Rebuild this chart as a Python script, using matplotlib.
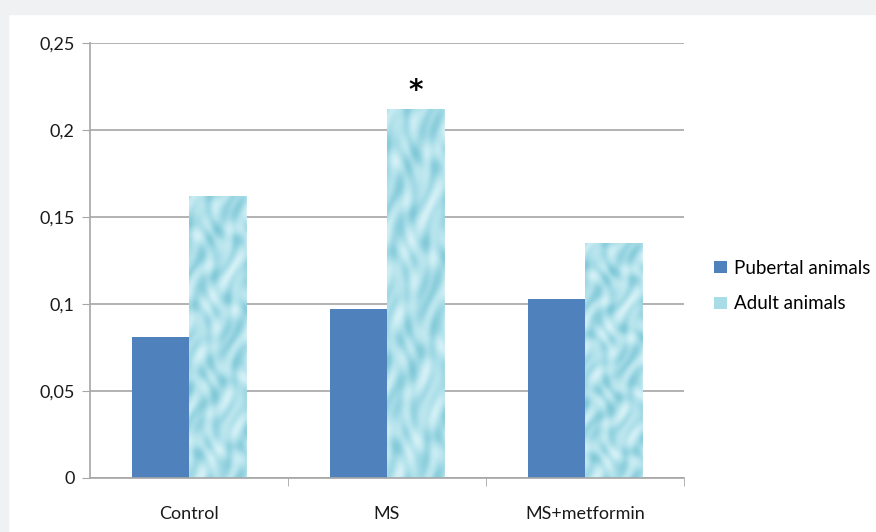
import numpy as np
import matplotlib
matplotlib.use("Agg")
import matplotlib.pyplot as plt
from matplotlib.patches import Patch, Rectangle
from matplotlib.colors import LinearSegmentedColormap

# data
groups = ["Control", "MS", "MS+metformin"]
pubertal = [0.081, 0.097, 0.103]
adult = [0.162, 0.212, 0.135]
yticks = [0, 0.05, 0.1, 0.15, 0.2, 0.25]
ytick_labels = ["0", "0,05", "0,1", "0,15", "0,2", "0,25"]

W, H = 876, 532
fig = plt.figure(figsize=(W / 100, H / 100), dpi=100, facecolor="white")
# light gray frame on top and left edge
fig.patches.append(Rectangle((0, 0), 8 / W, 1, transform=fig.transFigure,
                             color="#eff1f3", zorder=0))
fig.patches.append(Rectangle((0, 1 - 14 / H), 1, 14 / H, transform=fig.transFigure,
                             color="#eff1f3", zorder=0))

ax = fig.add_axes([90 / W, (H - 478) / H, (684 - 90) / W, (478 - 43) / H])
ax.set_facecolor("none")

x = np.arange(len(groups))
bw = 0.288
blue = "#4f81bd"
bars_p = ax.bar(x - bw / 2, pubertal, bw, color=blue, zorder=2)
bars_a = ax.bar(x + bw / 2, adult, bw, color="#b3e3ec", zorder=2)

# water-drop-ish texture clipped to the adult bars
yy, xx = np.mgrid[0:220, 0:60]
tex = (np.sin(xx / 4.0 + np.sin(yy / 9.0) * 2) * np.cos(yy / 6.0 + np.sin(xx / 7.0) * 1.5)
       + 0.6 * np.sin((xx + yy) / 5.0))
cmap = LinearSegmentedColormap.from_list("water", ["#7cc6d6", "#aee0ea", "#d9f3f8"])
for b in bars_a:
    x0, w_, h_ = b.get_x(), b.get_width(), b.get_height()
    im = ax.imshow(tex, cmap=cmap, extent=(x0, x0 + w_, 0, h_), aspect="auto",
                   interpolation="bicubic", zorder=2.5, alpha=0.9)
    im.set_clip_path(b)

ax.set_xlim(-0.5, 2.5)
ax.set_ylim(0, 0.25)
ax.set_yticks(yticks)
ax.set_yticklabels(ytick_labels)
ax.yaxis.grid(True, color="#a6a6a6", linewidth=1.2, zorder=0)
ax.set_axisbelow(True)

ax.set_xticks(x)
ax.set_xticklabels(groups)
ax.tick_params(axis="x", length=0, pad=20)
ax.set_xticks([0.5, 1.5, 2.5], minor=True)
ax.tick_params(axis="x", which="minor", length=6, color="#a6a6a6", direction="out")
ax.tick_params(axis="y", length=6, color="#a6a6a6", pad=5)

for s in ["top", "right"]:
    ax.spines[s].set_visible(False)
for s in ["left", "bottom"]:
    ax.spines[s].set_color("#a6a6a6")
    ax.spines[s].set_linewidth(1.2)

for lab in ax.get_xticklabels() + ax.get_yticklabels():
    lab.set_fontfamily("Lato")
    lab.set_fontsize(13)
    lab.set_color("#1a1a1a")

# significance marker
ax.text(x[1] + bw / 2, adult[1] + 0.0105, "*", ha="center", va="center",
        fontsize=20, fontweight="bold", fontfamily="DejaVu Sans")

handles = [Patch(facecolor=blue, label="Pubertal animals"),
           Patch(facecolor="#a8dde8", label="Adult animals")]
fig.legend(handles=handles, loc="center left", bbox_to_anchor=(705 / W, 1 - 286 / H),
           frameon=False, handlelength=0.65, handleheight=0.65, handletextpad=0.4,
           labelspacing=1.0, borderpad=0, prop={"family": "Lato", "size": 13.5})

fig.savefig("out.png", dpi=100, facecolor="white")
